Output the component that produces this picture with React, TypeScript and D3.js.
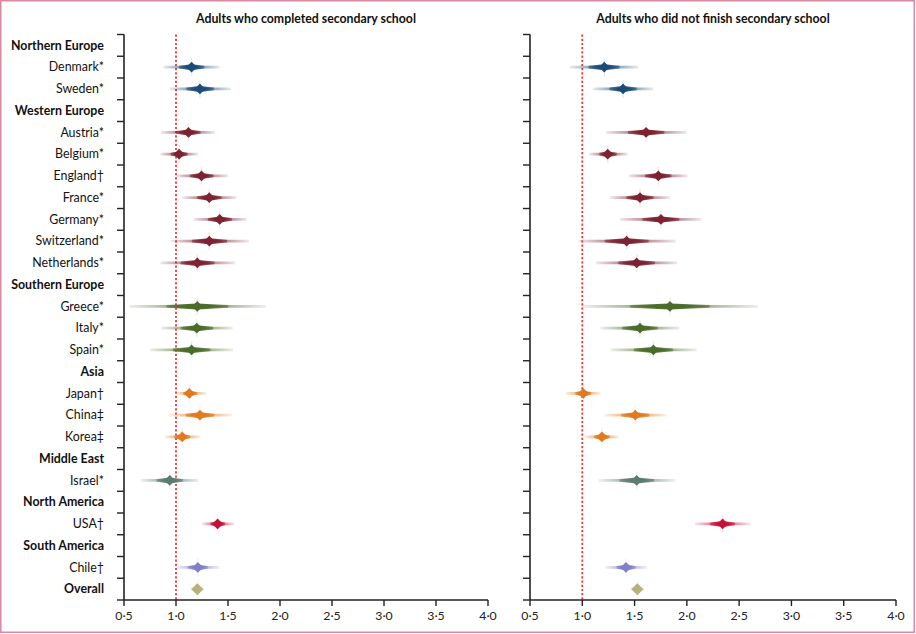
import React from "react";
import * as d3 from "d3";

const rowLabels = ["Northern Europe","Denmark*","Sweden*","Western Europe","Austria*","Belgium*","England†","France*","Germany*","Switzerland*","Netherlands*","Southern Europe","Greece*","Italy*","Spain*","Asia","Japan†","China‡","Korea‡","Middle East","Israel*","North America","USA†","South America","Chile†","Overall"];
const boldRows = ["Northern Europe","Western Europe","Southern Europe","Asia","Middle East","North America","South America","Overall"];

const countries = ["Denmark*","Sweden*","Austria*","Belgium*","England†","France*","Germany*","Switzerland*","Netherlands*","Greece*","Italy*","Spain*","Japan†","China‡","Korea‡","Israel*","USA†","Chile†","Overall"];
const regionOf = ["N","N","W","W","W","W","W","W","W","S","S","S","A","A","A","M","NA","SA","O"];

const completedEst = [1.15,1.23,1.12,1.03,1.245,1.32,1.42,1.32,1.205,1.205,1.2,1.15,1.128,1.23,1.06,0.94,1.4,1.21,1.205];
const completedLo = [0.88,0.94,0.855,0.85,1.0,1.06,1.17,0.95,0.85,0.55,0.86,0.75,1.0,0.93,0.89,0.66,1.25,1.0,1.14];
const completedHi = [1.42,1.53,1.375,1.21,1.5,1.58,1.68,1.7,1.57,1.865,1.545,1.55,1.295,1.54,1.23,1.22,1.56,1.42,1.27];

const notFinishedEst = [1.21,1.39,1.61,1.243,1.727,1.552,1.752,1.424,1.52,1.838,1.552,1.68,1.01,1.507,1.188,1.52,2.342,1.418,1.526];
const notFinishedLo = [0.88,1.1,1.227,1.067,1.446,1.265,1.36,0.962,1.13,0.994,1.175,1.27,0.84,1.21,1.02,1.157,2.077,1.22,1.46];
const notFinishedHi = [1.535,1.68,1.998,1.434,2.007,1.838,2.14,1.893,1.908,2.68,1.928,2.094,1.176,1.807,1.354,1.893,2.603,1.62,1.595];

const regionColors: Record<string, string> = {
  N: "#1b4c78", W: "#7c2231", S: "#4a6b29", A: "#e07a1c", M: "#5b7c71", NA: "#c8113a", SA: "#7f80c6", O: "#b7b27a",
};

const xTicks = [0.5, 1, 1.5, 2, 2.5, 3, 3.5, 4];
const panelTitles = ["Adults who completed secondary school", "Adults who did not finish secondary school"];

const W = 916, H = 634;
const FONT = "Lato, 'Open Sans', sans-serif";
const yTop = 34.5, yBottom = 600;

function Panel({ idx, x0, x1, est, lo, hi }: { idx: number; x0: number; x1: number; est: number[]; lo: number[]; hi: number[] }) {
  const x = d3.scaleLinear().domain([0.5, 4]).range([x0, x1]);
  const y = d3.scaleBand().domain(rowLabels).range([yTop, yBottom]).paddingInner(0).paddingOuter(0);
  const step = y.step();
  const boundaries = d3.range(rowLabels.length + 1).map((i) => yTop + i * step);
  const fmt = (v: number) => d3.format(".1f")(v).replace(".", "·");
  return (
    <g>
      <text x={(x0 + x1) / 2} y={23} textAnchor="middle" fontFamily={FONT} fontWeight={700} fontSize={12.3} fill="#111">{panelTitles[idx]}</text>
      {/* reference line */}
      <line x1={x(1)} x2={x(1)} y1={yTop} y2={yBottom} stroke="#ee3b3b" strokeWidth={1.8} strokeDasharray="2.2,2" />
      {/* y axis */}
      <line x1={x0} x2={x0} y1={yTop} y2={yBottom} stroke="#222" strokeWidth={1.6} />
      {boundaries.map((b, i) => (
        <line key={i} x1={x0 - 7} x2={x0} y1={b} y2={b} stroke="#222" strokeWidth={1.4} />
      ))}
      {/* x axis */}
      <line x1={x0} x2={x1} y1={yBottom} y2={yBottom} stroke="#222" strokeWidth={1.6} />
      {xTicks.map((t) => (
        <g key={t}>
          <line x1={x(t)} x2={x(t)} y1={yBottom} y2={yBottom + 6} stroke="#222" strokeWidth={1.4} />
          <text x={x(t)} y={yBottom + 19.5} textAnchor="middle" fontFamily={FONT} fontSize={12.3} fill="#222">{fmt(t)}</text>
        </g>
      ))}
      {idx === 0 && rowLabels.map((r) => (
        <text key={r} x={104} y={(y(r) as number) + step / 2 + 4.3} textAnchor="end" fontFamily={FONT} fontSize={12.4}
          fontWeight={boldRows.includes(r) ? 700 : 400} fill="#111">{r}</text>
      ))}
      {countries.map((c, i) => {
        const color = regionColors[regionOf[i]];
        const cy = (y(c) as number) + step / 2;
        const xe = x(est[i]), xl = x(lo[i]), xh = x(hi[i]);
        const p = (xe - xl) / (xh - xl);
        const gid = `g${idx}_${i}`;
        const isOverall = c === "Overall";
        const d = isOverall ? 6 : 5.3;
        const tl = xe - (xe - xl) * 0.45, th = xe + (xh - xe) * 0.45;
        return (
          <g key={c}>
            <defs>
              <linearGradient id={gid} gradientUnits="userSpaceOnUse" x1={xl} x2={xh} y1={0} y2={0}>
                <stop offset={0} stopColor={color} stopOpacity={0.1} />
                <stop offset={p * 0.5} stopColor={color} stopOpacity={0.45} />
                <stop offset={p * 0.85} stopColor={color} stopOpacity={0.95} />
                <stop offset={p} stopColor={color} stopOpacity={1} />
                <stop offset={p + (1 - p) * 0.15} stopColor={color} stopOpacity={0.95} />
                <stop offset={p + (1 - p) * 0.5} stopColor={color} stopOpacity={0.45} />
                <stop offset={1} stopColor={color} stopOpacity={0.1} />
              </linearGradient>
            </defs>
            <line x1={xe} x2={xe} y1={cy - 9} y2={cy + 9} stroke={color} strokeOpacity={0.1} strokeWidth={1.5} />
            <rect x={xl} y={cy - 1.4} width={xh - xl} height={2.8} fill={`url(#${gid})`} />
            <polygon
              points={[[tl, cy - 1.4], [xe, cy - 3], [th, cy - 1.4], [th, cy + 1.4], [xe, cy + 3], [tl, cy + 1.4]].map((q) => q.join(",")).join(" ")}
              fill={`url(#${gid})`} />
            <polygon points={[[xe - d, cy], [xe, cy - d], [xe + d, cy], [xe, cy + d]].map((q) => q.join(",")).join(" ")} fill={color} />
          </g>
        );
      })}
    </g>
  );
}

export default function App() {
  return (
    <svg width={W} height={H} style={{ position: "absolute", left: 0, top: 0, background: "#fff" }}>
      <rect x={0} y={0} width={W} height={H} fill="#fff" />
      <rect x={0.75} y={0.75} width={913.5} height={631.5} fill="none" stroke="#d98aa0" strokeWidth={1.5} />
      <Panel idx={0} x0={124} x1={488} est={completedEst} lo={completedLo} hi={completedHi} />
      <Panel idx={1} x0={530} x1={896} est={notFinishedEst} lo={notFinishedLo} hi={notFinishedHi} />
    </svg>
  );
}
